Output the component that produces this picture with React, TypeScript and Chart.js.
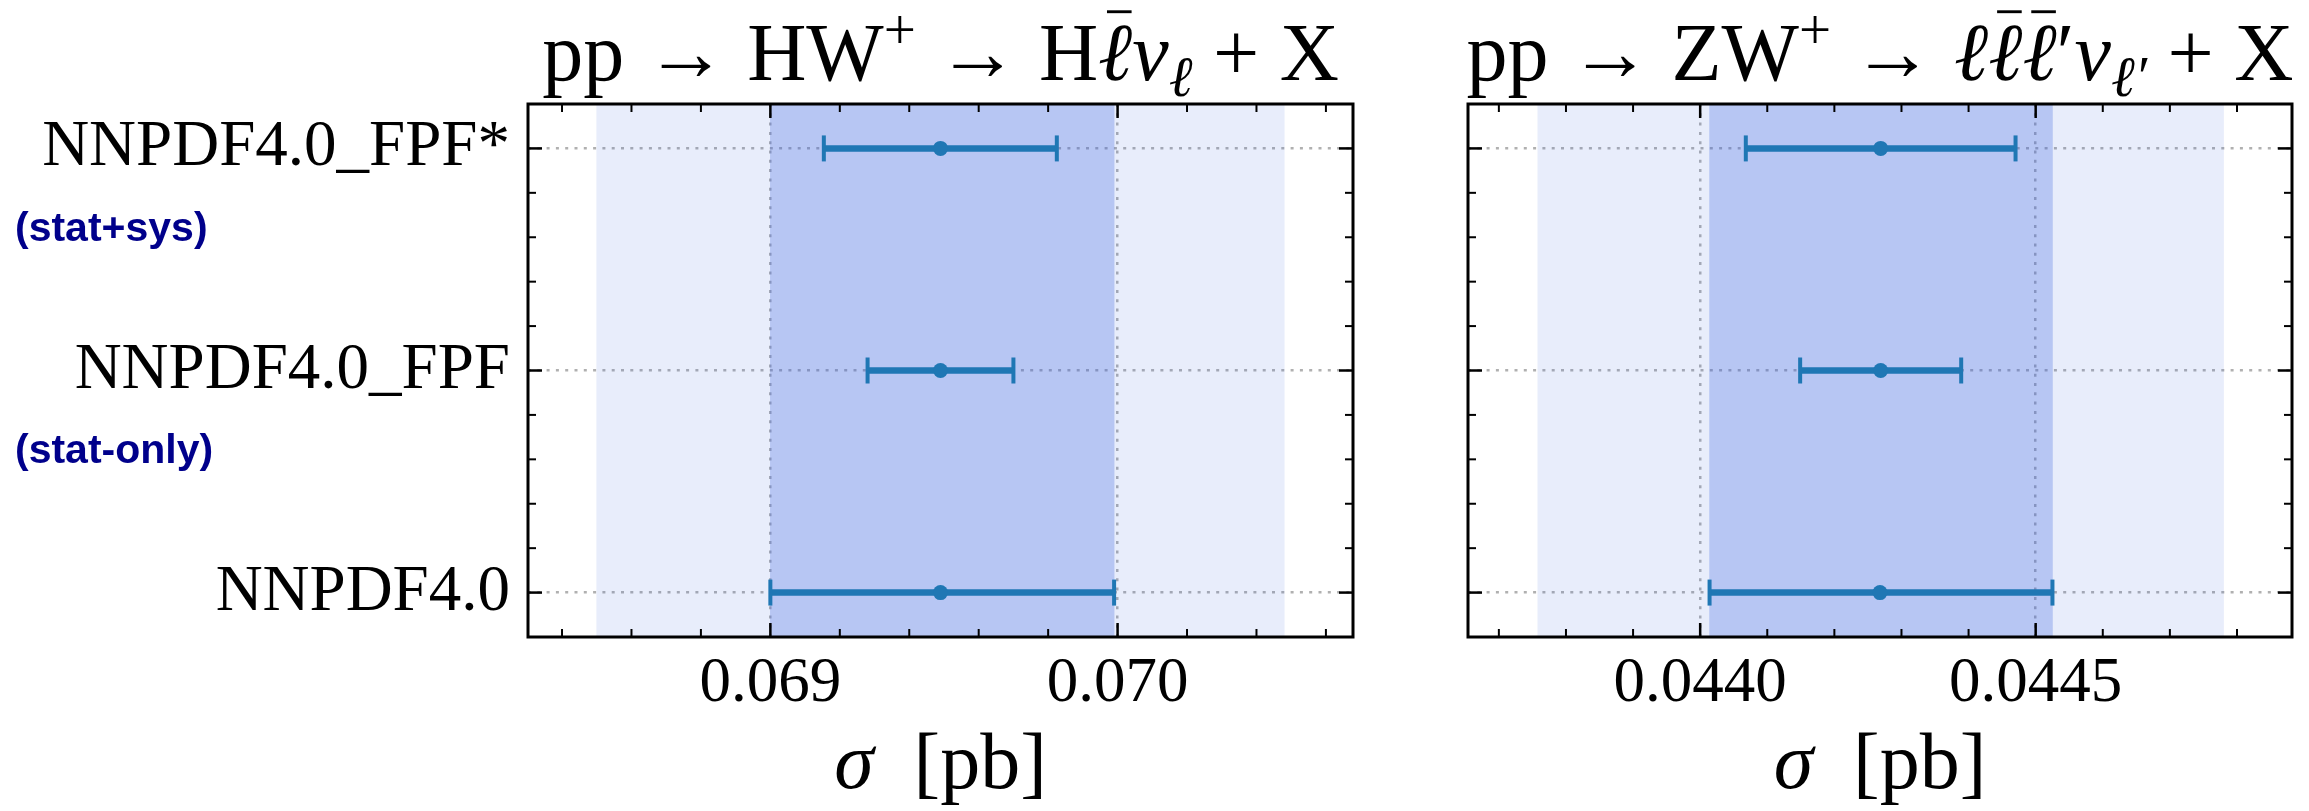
import React, { useEffect, useRef } from 'react';
import { Chart, registerables } from 'chart.js';

Chart.register(...registerables);

// ---------- data ----------
const categories = ['NNPDF4.0', 'NNPDF4.0_FPF', 'NNPDF4.0_FPF*'];
const rowPositions = [0, 1, 2];
const noteTexts = ['(stat-only)', '(stat+sys)'];
const noteRows = [1, 2];
const yLimits = [-0.2, 2.2];
const yMinorTicks = [0.2, 0.4, 0.6, 0.8, 1.2, 1.4, 1.6, 1.8];

// pp -> HW+ panel
const hwCentral = [0.06949, 0.06949, 0.06949];
const hwLow = [0.069, 0.06928, 0.069154];
const hwHigh = [0.06999, 0.0697, 0.069825];
const hwBandInner = [0.069, 0.06999];
const hwBandOuter = [0.0685, 0.07048];
const hwXLimits = [0.068302, 0.070678];
const hwMajorTicks = [0.069, 0.07];
const hwTickLabels = ['0.069', '0.070'];
const hwMinorTicks = [0.0684, 0.0686, 0.0688, 0.0692, 0.0694, 0.0696, 0.0698, 0.0702, 0.0704, 0.0706];

// pp -> ZW+ panel
const zwCentral = [0.044268, 0.044269, 0.044269];
const zwLow = [0.044014, 0.044149, 0.044068];
const zwHigh = [0.044525, 0.044389, 0.04447];
const zwBandInner = [0.044014, 0.044525];
const zwBandOuter = [0.043758, 0.04478];
const zwXLimits = [0.043654, 0.044882];
const zwMajorTicks = [0.044, 0.0445];
const zwTickLabels = ['0.0440', '0.0445'];
const zwMinorTicks = [0.0437, 0.0438, 0.0439, 0.0441, 0.0442, 0.0443, 0.0444, 0.0446, 0.0447, 0.0448];

// ---------- text helpers ----------
type Seg = { t: string; it?: boolean; sc?: number; dy?: number; bar?: boolean };
const SERIF = '"Liberation Serif"';

const hwTitle: Seg[] = [
  { t: 'pp → HW' },
  { t: '+', sc: 0.7, dy: -0.38 },
  { t: ' → H' },
  { t: 'ℓ', it: true, bar: true },
  { t: 'ν', it: true },
  { t: 'ℓ', it: true, sc: 0.7, dy: 0.2 },
  { t: ' + X' },
];
const zwTitle: Seg[] = [
  { t: 'pp → ZW' },
  { t: '+', sc: 0.7, dy: -0.38 },
  { t: ' → ' },
  { t: 'ℓ', it: true },
  { t: 'ℓ', it: true, bar: true },
  { t: 'ℓ', it: true, bar: true },
  { t: '′' },
  { t: 'ν', it: true },
  { t: 'ℓ′', it: true, sc: 0.7, dy: 0.2 },
  { t: ' + X' },
];
const axisLabel: Seg[] = [{ t: 'σ', it: true }, { t: '  [pb]' }];

function drawRich(ctx: CanvasRenderingContext2D, segs: Seg[], cx: number, baseline: number, size: number) {
  const fontOf = (s: Seg) => `${s.it ? 'italic ' : ''}${Math.round(size * (s.sc ?? 1))}px ${SERIF}`;
  let total = 0;
  const widths = segs.map((s) => {
    ctx.font = fontOf(s);
    const w = ctx.measureText(s.t).width;
    total += w;
    return w;
  });
  let x = cx - total / 2;
  ctx.fillStyle = '#000';
  ctx.textBaseline = 'alphabetic';
  ctx.textAlign = 'left';
  segs.forEach((s, i) => {
    ctx.font = fontOf(s);
    const y = baseline + (s.dy ?? 0) * size;
    ctx.fillText(s.t, x, y);
    if (s.bar) {
      // macron accent over the letter
      const bw = size * 0.3;
      const mx = x + widths[i] / 2 + size * 0.05;
      ctx.fillRect(mx - bw / 2, y - size * 0.85, bw, Math.max(2.5, size * 0.035));
    }
    x += widths[i];
  });
}

type PanelSpec = {
  left: number;
  width: number;
  padRight: number;
  yWidth: number;
  showRowLabels: boolean;
  showNotes: boolean;
  title: Seg[];
  central: number[];
  low: number[];
  high: number[];
  bandInner: number[];
  bandOuter: number[];
  xLimits: number[];
  majors: number[];
  tickLabels: string[];
  minors: number[];
};

const H = 811;
const BLUE = '#1f77b4';

function Panel({ spec }: { spec: PanelSpec }) {
  const ref = useRef<HTMLCanvasElement>(null);
  useEffect(() => {
    const canvas = ref.current!;
    const decor = {
      id: 'decor',
      afterDraw(chart: any) {
        const { ctx, chartArea: a, scales } = chart;
        const x = scales.x;
        const y = scales.y;
        ctx.save();
        ctx.strokeStyle = '#000';
        ctx.lineCap = 'butt';
        const seg = (x1: number, y1: number, x2: number, y2: number, w: number) => {
          ctx.lineWidth = w;
          ctx.beginPath();
          ctx.moveTo(x1, y1);
          ctx.lineTo(x2, y2);
          ctx.stroke();
        };
        spec.minors.forEach((v) => {
          const p = x.getPixelForValue(v);
          seg(p, a.bottom, p, a.bottom - 8, 2);
          seg(p, a.top, p, a.top + 8, 2);
        });
        spec.majors.forEach((v) => {
          const p = x.getPixelForValue(v);
          seg(p, a.bottom, p, a.bottom - 14, 2.5);
          seg(p, a.top, p, a.top + 14, 2.5);
        });
        yMinorTicks.forEach((v) => {
          const p = y.getPixelForValue(v);
          seg(a.left, p, a.left + 8, p, 2);
          seg(a.right, p, a.right - 8, p, 2);
        });
        rowPositions.forEach((v) => {
          const p = y.getPixelForValue(v);
          seg(a.left, p, a.left + 14, p, 2.5);
          seg(a.right, p, a.right - 14, p, 2.5);
        });
        ctx.lineWidth = 3;
        ctx.strokeRect(a.left, a.top, a.right - a.left, a.bottom - a.top);

        const cx = (a.left + a.right) / 2;
        drawRich(ctx, spec.title, cx, a.top - 24, 82);
        drawRich(ctx, axisLabel, cx, a.bottom + 151, 80);

        if (spec.showNotes) {
          ctx.font = 'bold 41px "Liberation Sans"';
          ctx.fillStyle = '#00008B';
          ctx.textAlign = 'left';
          ctx.textBaseline = 'middle';
          noteRows.forEach((r, i) => {
            ctx.fillText(noteTexts[i], 15, y.getPixelForValue(r - 0.365));
          });
        }
        ctx.restore();
      },
    };

    const gridStyle = { color: '#b0b0b0', lineWidth: 2.5, drawTicks: false };
    const borderStyle = { display: false, dash: [3, 6.3] };

    const chart = new Chart(canvas, {
      type: 'scatter',
      data: {
        datasets: [
          {
            type: 'bar',
            label: 'outer band',
            data: [[spec.bandOuter[0], spec.bandOuter[1]]] as any,
            xAxisID: 'x',
            yAxisID: 'yb',
            indexAxis: 'y',
            grouped: false,
            barPercentage: 1,
            categoryPercentage: 1,
            backgroundColor: 'rgba(65,105,225,0.12)',
            borderWidth: 0,
            order: 4,
          } as any,
          {
            type: 'bar',
            label: 'inner band',
            data: [[spec.bandInner[0], spec.bandInner[1]]] as any,
            xAxisID: 'x',
            yAxisID: 'yb',
            indexAxis: 'y',
            grouped: false,
            barPercentage: 1,
            categoryPercentage: 1,
            backgroundColor: 'rgba(65,105,225,0.29)',
            borderWidth: 0,
            order: 3,
          } as any,
          ...rowPositions.map((r, i) => ({
            type: 'line',
            label: categories[i] + ' error',
            data: [
              { x: spec.low[i], y: r },
              { x: spec.high[i], y: r },
            ],
            xAxisID: 'x',
            yAxisID: 'y',
            showLine: true,
            borderColor: BLUE,
            borderWidth: 6.5,
            pointStyle: 'line',
            pointRadius: 13,
            pointRotation: 90,
            pointBorderColor: BLUE,
            pointBorderWidth: 4,
            tension: 0,
            order: 1,
          })) as any,
          {
            type: 'line',
            label: 'central',
            data: rowPositions.map((r, i) => ({ x: spec.central[i], y: r })),
            xAxisID: 'x',
            yAxisID: 'y',
            showLine: false,
            pointStyle: 'circle',
            pointRadius: 7.5,
            pointBackgroundColor: BLUE,
            pointBorderWidth: 0,
            order: 0,
          } as any,
        ],
      },
      options: {
        animation: false,
        responsive: false,
        events: [],
        layout: { padding: { top: 104, right: spec.padRight, left: 0, bottom: 0 } },
        plugins: { legend: { display: false }, tooltip: { enabled: false }, title: { display: false } },
        scales: {
          x: {
            type: 'linear',
            position: 'bottom',
            min: spec.xLimits[0],
            max: spec.xLimits[1],
            afterBuildTicks: (axis: any) => {
              axis.ticks = spec.majors.map((v) => ({ value: v }));
            },
            afterFit: (axis: any) => {
              axis.height = H - 637;
            },
            ticks: {
              callback: (v: any) => {
                const idx = spec.majors.findIndex((m) => Math.abs(m - Number(v)) < 1e-9);
                return idx >= 0 ? spec.tickLabels[idx] : '';
              },
              font: { family: SERIF, size: 63 },
              color: '#000',
              padding: 10,
              maxRotation: 0,
              autoSkip: false,
            },
            grid: gridStyle,
            border: borderStyle,
          },
          y: {
            type: 'linear',
            position: 'left',
            min: yLimits[0],
            max: yLimits[1],
            afterBuildTicks: (axis: any) => {
              axis.ticks = rowPositions.map((v) => ({ value: v }));
            },
            afterFit: (axis: any) => {
              axis.width = spec.yWidth;
            },
            ticks: {
              display: spec.showRowLabels,
              callback: (v: any) => categories[rowPositions.indexOf(Number(v))] ?? '',
              font: { family: SERIF, size: 65 },
              color: '#000',
              padding: 18,
              autoSkip: false,
            },
            grid: gridStyle,
            border: borderStyle,
          },
          yb: {
            type: 'category',
            axis: 'y',
            labels: ['band'],
            display: false,
            offset: true,
          },
        },
      } as any,
      plugins: [decor],
    });
    return () => chart.destroy();
  }, [spec]);
  return (
    <canvas
      ref={ref}
      width={spec.width}
      height={H}
      style={{ position: 'absolute', left: spec.left, top: 0, width: spec.width, height: H }}
    />
  );
}

const hwSpec: PanelSpec = {
  left: 0,
  width: 1400,
  padRight: 47,
  yWidth: 528,
  showRowLabels: true,
  showNotes: true,
  title: hwTitle,
  central: hwCentral,
  low: hwLow,
  high: hwHigh,
  bandInner: hwBandInner,
  bandOuter: hwBandOuter,
  xLimits: hwXLimits,
  majors: hwMajorTicks,
  tickLabels: hwTickLabels,
  minors: hwMinorTicks,
};

const zwSpec: PanelSpec = {
  left: 1400,
  width: 909,
  padRight: 16,
  yWidth: 68,
  showRowLabels: false,
  showNotes: false,
  title: zwTitle,
  central: zwCentral,
  low: zwLow,
  high: zwHigh,
  bandInner: zwBandInner,
  bandOuter: zwBandOuter,
  xLimits: zwXLimits,
  majors: zwMajorTicks,
  tickLabels: zwTickLabels,
  minors: zwMinorTicks,
};

export default function App() {
  return (
    <div style={{ position: 'absolute', left: 0, top: 0, width: 2309, height: H, background: '#fff', overflow: 'hidden' }}>
      <Panel spec={hwSpec} />
      <Panel spec={zwSpec} />
    </div>
  );
}
